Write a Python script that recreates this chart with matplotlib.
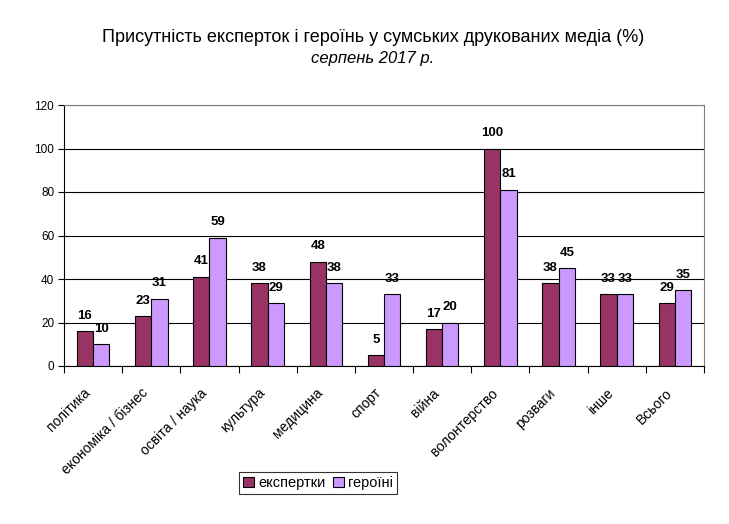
import numpy as np
import matplotlib as mpl
mpl.use('Agg')
import matplotlib.pyplot as plt
from matplotlib.transforms import ScaledTranslation

plt.rcParams['font.family'] = ['Liberation Sans', 'DejaVu Sans']

categories = ['політика', 'економіка / бізнес', 'освіта / наука', 'культура', 'медицина',
              'спорт', 'війна', 'волонтерство', 'розваги', 'інше', 'Всього']
experts = [16, 23, 41, 38, 48, 5, 17, 100, 38, 33, 29]
heroines = [10, 31, 59, 29, 38, 33, 20, 81, 45, 33, 35]
yticks = [0, 20, 40, 60, 80, 100, 120]

fig = plt.figure(figsize=(7.29, 5.24), dpi=100)
ax = fig.add_axes([64/729, 1 - 366/524, 640/729, 261/524])

x = np.arange(len(categories))
w = 0.28
b1 = ax.bar(x - w/2, experts, w, color='#993366', edgecolor='black', linewidth=0.8,
            label='експертки', zorder=3)
b2 = ax.bar(x + w/2, heroines, w, color='#CC99FF', edgecolor='black', linewidth=0.8,
            label='героїні', zorder=3)

for rects, vals in ((b1, experts), (b2, heroines)):
    for r, v in zip(rects, vals):
        ax.text(r.get_x() + r.get_width()/2, v + 4.3, str(v), ha='center', va='bottom',
                fontsize=9.5, fontweight='bold')

ax.set_xlim(-0.5, len(categories) - 0.5)
ax.set_ylim(0, 120)
ax.set_yticks(yticks)
ax.set_yticklabels([str(t) for t in yticks], fontsize=8.5)
ax.yaxis.grid(True, color='black', linewidth=0.8, zorder=0)
ax.set_axisbelow(True)

ax.set_xticks(np.arange(-0.5, len(categories) + 0.5, 1))
ax.set_xticklabels([])
ax.set_xticks(x, minor=True)
ax.set_xticklabels(categories, minor=True, rotation=45, ha='right', va='center',
                   rotation_mode='anchor', fontsize=10)
ax.tick_params(axis='x', which='minor', length=0, pad=15)
ax.tick_params(axis='x', which='major', length=5, direction='out', color='black')
ax.tick_params(axis='y', length=4, direction='out', pad=3)
# nudge category labels a bit left/down like the original
shift = ScaledTranslation(-5/100, -4/100, fig.dpi_scale_trans)
for lab in ax.xaxis.get_minorticklabels():
    lab.set_transform(lab.get_transform() + shift)

for s in ('top', 'right'):
    ax.spines[s].set_color('#808080')
ax.spines['left'].set_color('black')
ax.spines['bottom'].set_color('black')

fig.text(373/729, 1 - 37/524, 'Присутність експерток і героїнь у сумських друкованих медіа (%)',
         ha='center', va='center', fontsize=13)
fig.text(373/729, 1 - 58/524, 'серпень 2017 р.', ha='center', va='center', fontsize=12,
         style='italic')

leg = fig.legend(handles=[b1, b2], loc='center', bbox_to_anchor=(318/729, 1 - 483/524),
                 ncol=2, fontsize=10.5, frameon=True, fancybox=False, edgecolor='black',
                 handlelength=0.75, handleheight=0.75, handletextpad=0.3, columnspacing=0.5,
                 borderpad=0.3)
leg.get_frame().set_linewidth(0.8)

fig.savefig('out.png', dpi=100)
